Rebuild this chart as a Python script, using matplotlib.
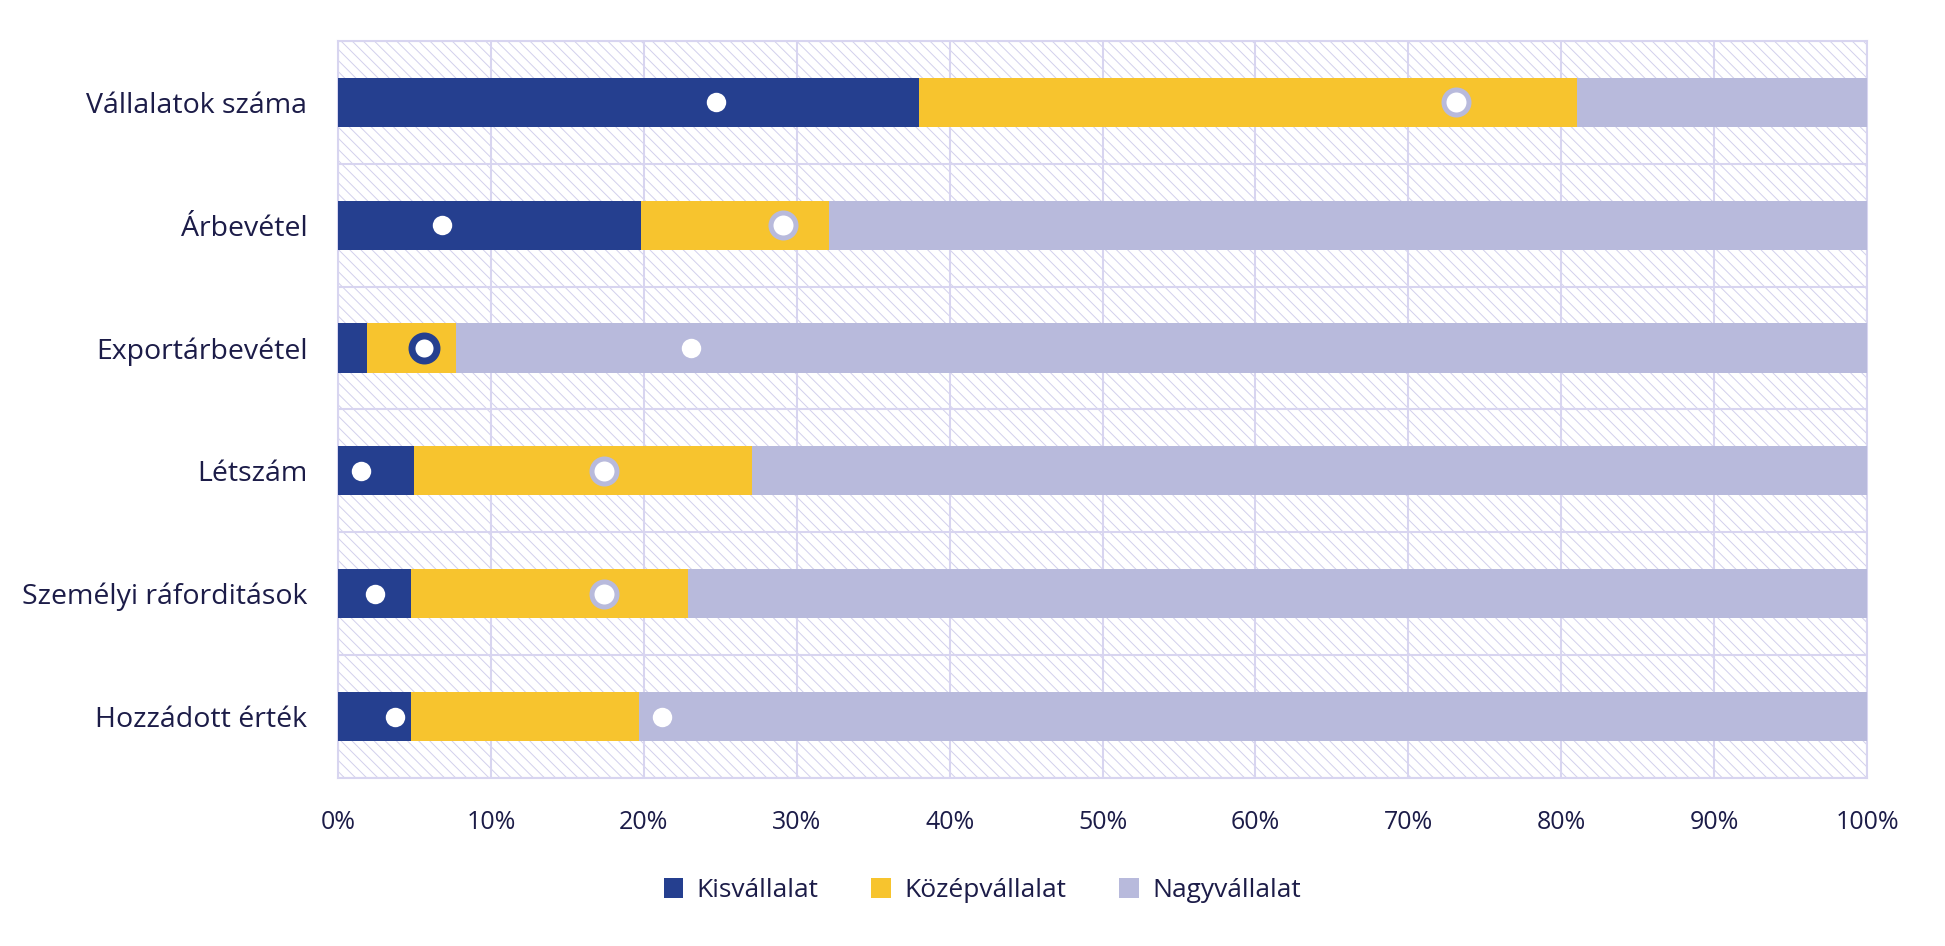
import matplotlib.pyplot as plt
from matplotlib.patches import Rectangle
from matplotlib.ticker import PercentFormatter

plt.rcParams['font.family'] = ['Open Sans', 'DejaVu Sans']
plt.rcParams['hatch.linewidth'] = 0.7

# data
categories = ['Vállalatok száma', 'Árbevétel', 'Exportárbevétel', 'Létszám',
              'Személyi ráforditások', 'Hozzádott érték']
kis = [38.0, 19.8, 1.9, 5.0, 4.8, 4.8]
kozep = [43.0, 12.3, 5.8, 22.1, 18.1, 14.9]
nagy = [19.0, 67.9, 92.3, 72.9, 77.1, 80.3]

# marker points (x position in %)
dot_white = [24.7, 6.8, 23.1, 1.5, 2.4, 3.7]
dot_white_row = [0, 1, 2, 3, 4, 5]
dot_white2 = [21.2]
dot_white2_row = [5]
dot_lilac = [73.1, 29.1, 17.4, 17.4]
dot_lilac_row = [0, 1, 3, 4]
dot_navy = [5.6]
dot_navy_row = [2]

c_kis = '#253f8f'
c_kozep = '#f7c42e'
c_nagy = '#b8badc'
grid_c = '#d8d5f0'
txt_c = '#1c1c48'

fig = plt.figure(figsize=(19.45, 9.46), dpi=100)
ax = fig.add_axes([0.1738, 0.1776, 0.9599 - 0.1738, 0.9567 - 0.1776])

y = list(range(len(categories)))
ax.set_xlim(0, 100)
ax.set_ylim(len(categories) - 0.5, -0.5)

# hatched background
bg = Rectangle((0, 0), 1, 1, transform=ax.transAxes, facecolor='white',
               edgecolor='#d2d0ec', hatch='\\\\\\', linewidth=0, zorder=0)
ax.add_patch(bg)
ax.patch.set_visible(False)

h = 0.40
ax.barh(y, kis, height=h, color=c_kis, label='Kisvállalat', zorder=3)
ax.barh(y, kozep, left=kis, height=h, color=c_kozep, label='Középvállalat', zorder=3)
left2 = [a + b for a, b in zip(kis, kozep)]
ax.barh(y, nagy, left=left2, height=h, color=c_nagy, label='Nagyvállalat', zorder=3)

ax.plot(dot_white, dot_white_row, 'o', ms=14, mfc='white', mec='white', mew=0, zorder=5)
ax.plot(dot_white2, dot_white2_row, 'o', ms=14, mfc='white', mec='white', mew=0, zorder=5)
ax.plot(dot_lilac, dot_lilac_row, 'o', ms=18, mfc='white', mec=c_nagy, mew=3.6, zorder=5)
ax.plot(dot_navy, dot_navy_row, 'o', ms=18, mfc='white', mec=c_kis, mew=5.0, zorder=5)

# grid
ax.set_xticks(range(0, 101, 10))
ax.xaxis.set_major_formatter(PercentFormatter(decimals=0))
ax.set_yticks(y)
ax.set_yticklabels(categories)
ax.set_yticks([k + 0.5 for k in range(-1, len(categories))], minor=True)
ax.grid(axis='x', which='major', color=grid_c, lw=1.5, zorder=1)
ax.grid(axis='y', which='minor', color=grid_c, lw=1.5, zorder=1)
ax.grid(axis='y', which='major', visible=False)
ax.tick_params(which='both', length=0)
ax.tick_params(axis='x', labelsize=18, colors=txt_c, pad=23)
ax.tick_params(axis='y', labelsize=20.5, colors=txt_c, pad=22)
for s in ax.spines.values():
    s.set_color(grid_c)
    s.set_linewidth(1.5)

fig.legend(loc='lower center', bbox_to_anchor=(0.505, 0.02), ncol=3, frameon=False,
           fontsize=19, labelcolor=txt_c, handlelength=0.75, handleheight=0.75,
           handletextpad=0.5, columnspacing=2.0)

fig.savefig('out.png', dpi=100)
